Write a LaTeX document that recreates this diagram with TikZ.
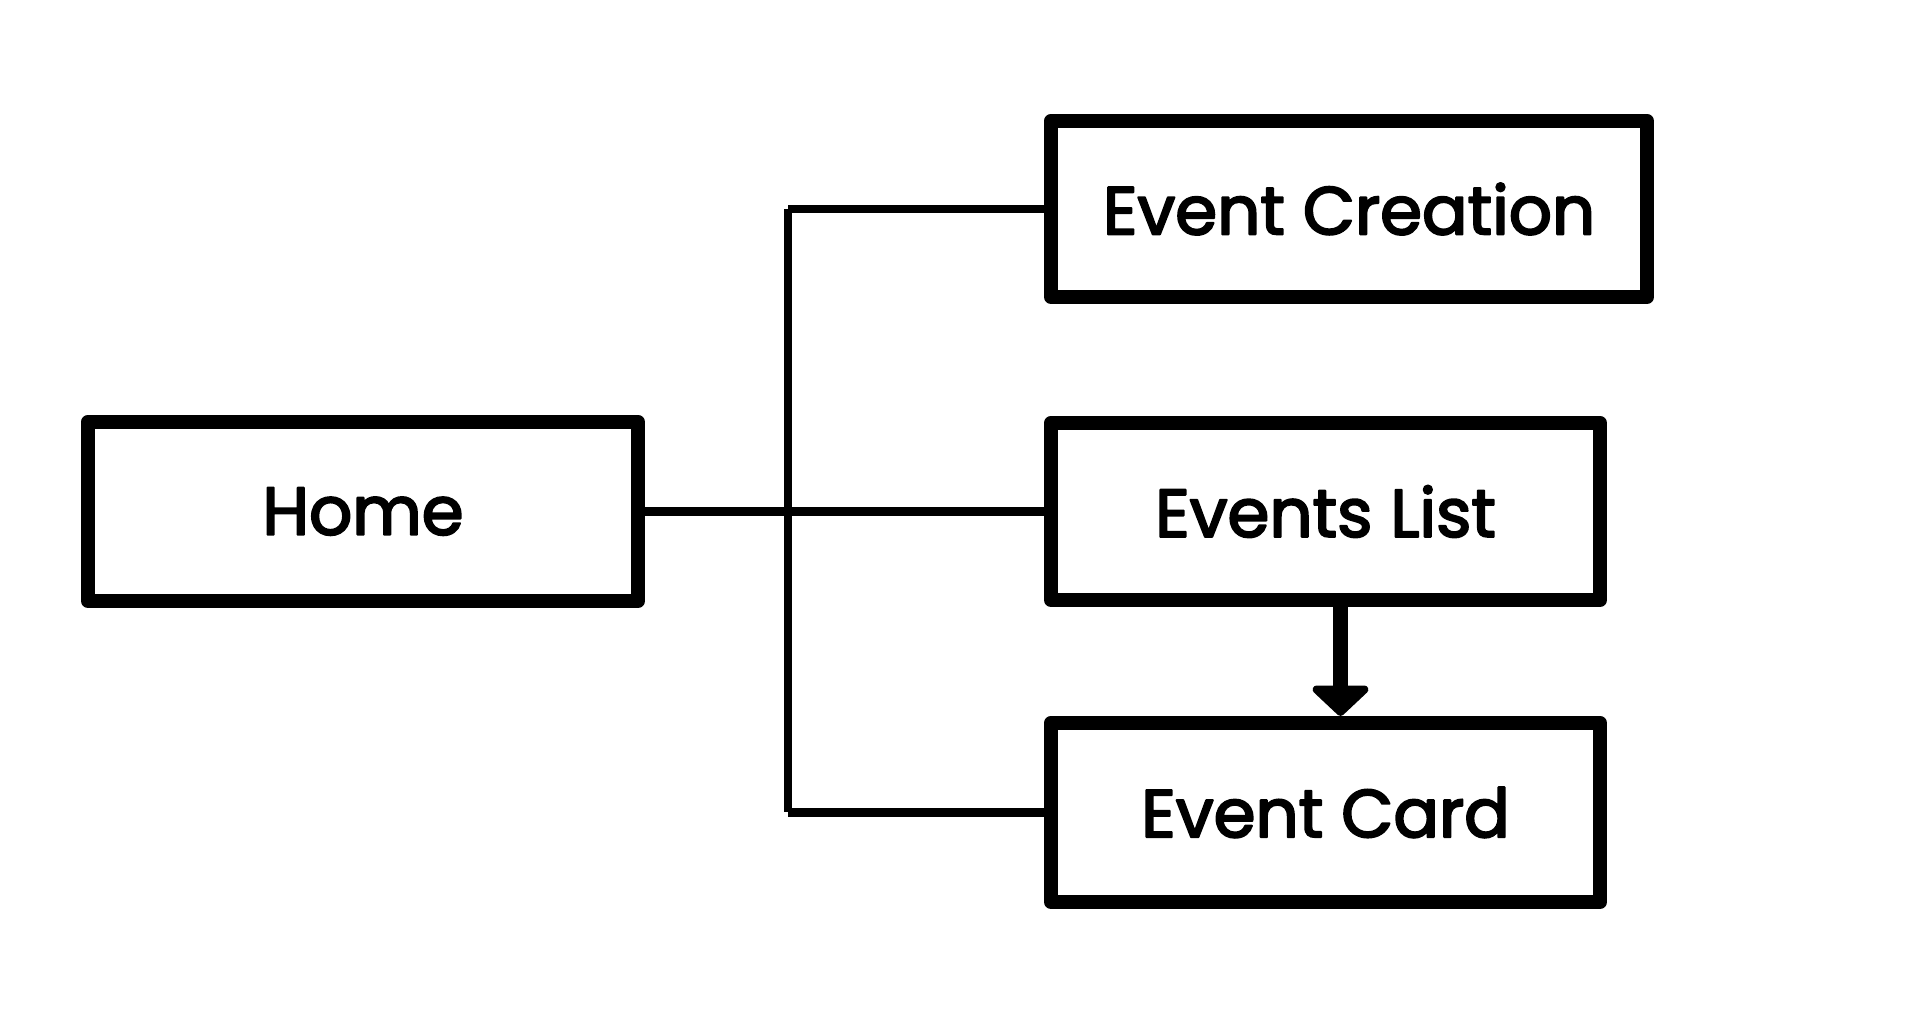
\documentclass[tikz,border=0pt]{standalone}
\usepackage{fontspec}
\setmainfont{Poppins}[RawFeature={embolden=3}]
\usetikzlibrary{arrows.meta,calc,positioning}

\begin{document}
\begin{tikzpicture}[
    every node/.style={font=\fontsize{19.2}{23}\selectfont},
    pagebox/.style={draw=black, line width=4pt, fill=white, line join=round,
      inner sep=0pt},
    link/.style={draw=black, line width=2.4pt},
    flow/.style={draw=black, line width=4pt,
      -{Triangle[width=0.66cm, length=0.32cm, round]}}
  ]
  \useasboundingbox (0,0) rectangle (19.16,10.26);
  % pages
  \node[pagebox, minimum width=5.5cm, minimum height=1.79cm] (home) at (3.63,5.145) {Home};
  \node[pagebox, minimum width=5.96cm, minimum height=1.76cm] (create) at (13.49,8.17) {Event Creation};
  \node[pagebox, minimum width=5.49cm, minimum height=1.77cm] (list) at (13.255,5.145) {Events List};
  \node[pagebox, minimum width=5.49cm, minimum height=1.79cm] (card) at (13.255,2.135) {Event Card};
  % tree from home
  \coordinate (jtop) at (7.88,0 |- create.west);
  \coordinate (jbot) at (7.88,0 |- card.west);
  \draw[link] (home.east) -- (list.west);
  \draw[link] (jtop) -- (jbot);
  \draw[link] (jtop) -- (create.west);
  \draw[link] (jbot) -- (card.west);
  % list opens a card
  \draw[flow] ([xshift=0.15cm]list.south) -- ([xshift=0.15cm]card.north);
\end{tikzpicture}
\end{document}
